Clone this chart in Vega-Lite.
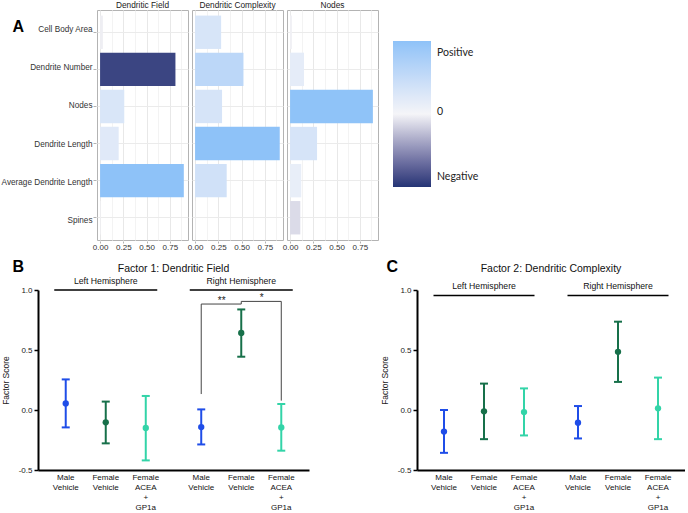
{
  "$schema": "https://vega.github.io/schema/vega-lite/v6.json",
  "padding": {"left": 1, "top": 0, "right": 0, "bottom": 0},
  "background": "white",
  "config": {
    "font": "Liberation Sans",
    "view": {"stroke": null},
    "axis": {"labelFont": "Liberation Sans", "titleFont": "Liberation Sans"},
    "title": {"font": "Liberation Sans"}
  },
  "datasets": {
    "loadings": [
      {"Factor": "Dendritic Field", "Variable": "Cell Body Area", "Loading": -0.03, "Magnitude": 0.03},
      {"Factor": "Dendritic Field", "Variable": "Dendrite Number", "Loading": -0.81, "Magnitude": 0.81},
      {"Factor": "Dendritic Field", "Variable": "Nodes", "Loading": 0.26, "Magnitude": 0.26},
      {"Factor": "Dendritic Field", "Variable": "Dendrite Length", "Loading": 0.2, "Magnitude": 0.2},
      {"Factor": "Dendritic Field", "Variable": "Average Dendrite Length", "Loading": 0.9, "Magnitude": 0.9},
      {"Factor": "Dendritic Field", "Variable": "Spines", "Loading": 0.005, "Magnitude": 0.005},
      {"Factor": "Dendritic Complexity", "Variable": "Cell Body Area", "Loading": 0.28, "Magnitude": 0.28},
      {"Factor": "Dendritic Complexity", "Variable": "Dendrite Number", "Loading": 0.52, "Magnitude": 0.52},
      {"Factor": "Dendritic Complexity", "Variable": "Nodes", "Loading": 0.29, "Magnitude": 0.29},
      {"Factor": "Dendritic Complexity", "Variable": "Dendrite Length", "Loading": 0.91, "Magnitude": 0.91},
      {"Factor": "Dendritic Complexity", "Variable": "Average Dendrite Length", "Loading": 0.34, "Magnitude": 0.34},
      {"Factor": "Dendritic Complexity", "Variable": "Spines", "Loading": 0.003, "Magnitude": 0.003},
      {"Factor": "Nodes", "Variable": "Cell Body Area", "Loading": -0.02, "Magnitude": 0.02},
      {"Factor": "Nodes", "Variable": "Dendrite Number", "Loading": 0.15, "Magnitude": 0.15},
      {"Factor": "Nodes", "Variable": "Nodes", "Loading": 0.89, "Magnitude": 0.89},
      {"Factor": "Nodes", "Variable": "Dendrite Length", "Loading": 0.29, "Magnitude": 0.29},
      {"Factor": "Nodes", "Variable": "Average Dendrite Length", "Loading": 0.12, "Magnitude": 0.12},
      {"Factor": "Nodes", "Variable": "Spines", "Loading": -0.11, "Magnitude": 0.11}
    ],
    "f1": [
      {"hem": "Left Hemisphere", "trt": "Male Vehicle", "mean": 0.055, "lo": -0.145, "hi": 0.255},
      {"hem": "Left Hemisphere", "trt": "Female Vehicle", "mean": -0.103, "lo": -0.278, "hi": 0.07},
      {"hem": "Left Hemisphere", "trt": "Female ACEA + GP1a", "mean": -0.15, "lo": -0.42, "hi": 0.117},
      {"hem": "Right Hemisphere", "trt": "Male Vehicle", "mean": -0.142, "lo": -0.287, "hi": 0.005},
      {"hem": "Right Hemisphere", "trt": "Female Vehicle", "mean": 0.642, "lo": 0.444, "hi": 0.838},
      {"hem": "Right Hemisphere", "trt": "Female ACEA + GP1a", "mean": -0.145, "lo": -0.339, "hi": 0.05}
    ],
    "f2": [
      {"hem": "Left Hemisphere", "trt": "Male Vehicle", "mean": -0.18, "lo": -0.357, "hi": 0.0},
      {"hem": "Left Hemisphere", "trt": "Female Vehicle", "mean": -0.011, "lo": -0.243, "hi": 0.22},
      {"hem": "Left Hemisphere", "trt": "Female ACEA + GP1a", "mean": -0.017, "lo": -0.212, "hi": 0.18},
      {"hem": "Right Hemisphere", "trt": "Male Vehicle", "mean": -0.106, "lo": -0.237, "hi": 0.033},
      {"hem": "Right Hemisphere", "trt": "Female Vehicle", "mean": 0.485, "lo": 0.234, "hi": 0.736},
      {"hem": "Right Hemisphere", "trt": "Female ACEA + GP1a", "mean": 0.014, "lo": -0.243, "hi": 0.27}
    ],
    "hemis1": [
      {"hem": "Left Hemisphere", "y": 1.0},
      {"hem": "Right Hemisphere", "y": 1.0}
    ],
    "hemis2": [
      {"hem": "Left Hemisphere", "y": 0.955},
      {"hem": "Right Hemisphere", "y": 0.955}
    ],
    "labels": [
      {"hem": "Left Hemisphere", "trt": "Male Vehicle", "label": "Male\nVehicle"},
      {"hem": "Left Hemisphere", "trt": "Female Vehicle", "label": "Female\nVehicle"},
      {"hem": "Left Hemisphere", "trt": "Female ACEA + GP1a", "label": "Female\nACEA\n+\nGP1a"},
      {"hem": "Right Hemisphere", "trt": "Male Vehicle", "label": "Male\nVehicle"},
      {"hem": "Right Hemisphere", "trt": "Female Vehicle", "label": "Female\nVehicle"},
      {"hem": "Right Hemisphere", "trt": "Female ACEA + GP1a", "label": "Female\nACEA\n+\nGP1a"}
    ],
    "bracket": [
      {"hem": "Right Hemisphere", "trt": "Male Vehicle", "y": 0.133, "o": 1},
      {"hem": "Right Hemisphere", "trt": "Male Vehicle", "y": 0.883, "o": 2},
      {"hem": "Right Hemisphere", "trt": "Female Vehicle", "y": 0.883, "o": 3},
      {"hem": "Right Hemisphere", "trt": "Female Vehicle", "y": 0.905, "o": 4},
      {"hem": "Right Hemisphere", "trt": "Female ACEA + GP1a", "y": 0.905, "o": 5},
      {"hem": "Right Hemisphere", "trt": "Female ACEA + GP1a", "y": 0.078, "o": 6}
    ],
    "stars": [
      {"hem": "Right Hemisphere", "trt": "Male Vehicle", "y": 0.883, "label": "**"},
      {"hem": "Right Hemisphere", "trt": "Female Vehicle", "y": 0.905, "label": "*"}
    ]
  },
  "resolve": {"scale": {"color": "independent", "fill": "independent"}, "legend": {"color": "independent", "fill": "independent"}},
  "spacing": 7,
  "vconcat": [
    {
      "spacing": 0,
      "resolve": {"scale": {"y": "independent"}, "axis": {"y": "independent"}},
      "hconcat": [
        {
          "data": {"name": "loadings"},
          "width": 1, "height": 230,
          "mark": {"type": "point", "opacity": 0},
          "encoding": {
            "y": {
              "field": "Variable", "type": "nominal",
              "sort": ["Cell Body Area", "Dendrite Number", "Nodes", "Dendrite Length", "Average Dendrite Length", "Spines"],
              "scale": {"paddingInner": 0.1, "paddingOuter": 0.15},
              "axis": {
                "orient": "right",
                "title": "A", "titleAngle": 0, "titleX": -27, "titleY": 8, "titleAlign": "left", "titleBaseline": "top",
                "titleFontSize": 16, "titleFontWeight": "bold", "titleColor": "black",
                "labelFontSize": 8.2, "labelColor": "#333", "labelAlign": "right", "labelPadding": 53,
                "ticks": false, "domain": false, "grid": false
              }
            }
          }
        },
        {
          "data": {"name": "loadings"},
          "spacing": 2,
          "facet": {
            "column": {
              "field": "Factor", "type": "nominal",
              "sort": ["Dendritic Field", "Dendritic Complexity", "Nodes"],
              "title": null,
              "header": {"labelFont": "Liberation Sans", "labelFontSize": 8.3, "labelColor": "#1a1a1a", "labelPadding": 0}
            }
          },
          "spec": {
            "width": 91, "height": 230,
            "view": {"stroke": "#b3b3b3", "strokeWidth": 1},
            "mark": {"type": "bar"},
            "encoding": {
              "y": {
                "field": "Variable", "type": "nominal",
                "sort": ["Cell Body Area", "Dendrite Number", "Nodes", "Dendrite Length", "Average Dendrite Length", "Spines"],
                "scale": {"paddingInner": 0.1, "paddingOuter": 0.15},
                "axis": {
                  "title": null, "labels": false,
                  "tickColor": "#b3b3b3", "tickSize": 3, "domain": false, "grid": true, "gridColor": "#ebebeb"
                }
              },
              "x": {
                "field": "Magnitude", "type": "quantitative",
                "scale": {"domain": [-0.033, 0.945], "nice": false, "zero": false},
                "axis": {
                  "title": null, "domain": false,
                  "values": [0, 0.125, 0.25, 0.375, 0.5, 0.625, 0.75, 0.875],
                  "labelExpr": "(datum.value*8) % 2 == 1 ? '' : format(datum.value, '.2f')",
                  "labelFontSize": 8, "labelColor": "#333", "labelFlush": false, "labelOverlap": false, "labelPadding": 0,
                  "tickSize": 2, "tickColor": "#b3b3b3",
                  "tickOpacity": {"condition": {"test": "(datum.value*8) % 2 == 1", "value": 0}, "value": 1},
                  "grid": true,
                  "gridColor": {"condition": {"test": "(datum.value*8) % 2 == 1", "value": "#f3f3f3"}, "value": "#e8e8e8"}
                }
              },
              "fill": {
                "field": "Loading", "type": "quantitative",
                "scale": {"domain": [-0.9, 0, 0.9], "range": ["#243475", "#f5f5f8", "#8ec2f8"], "clamp": true, "interpolate": "lab"},
                "legend": {
                  "orient": "none", "legendX": 355, "legendY": 31, "direction": "vertical", "title": null,
                  "gradientLength": 146, "gradientThickness": 38, "gradientStrokeWidth": 0,
                  "values": [-0.78, 0.025, 0.75],
                  "labelExpr": "datum.value > 0.1 ? 'Positive' : (datum.value < -0.1 ? 'Negative' : '0')",
                  "labelFont": "Lato", "labelFontSize": 10.5, "labelColor": "#222", "labelOffset": 6, "labelOverlap": false
                }
              }
            }
          }
        }
      ]
    },
    {
      "spacing": 71,
      "hconcat": [
        {
          "width": 271, "height": 180,
          "title": {"text": "Factor  1: Dendritic Field", "fontSize": 10.5, "fontWeight": "normal", "color": "#111", "offset": -16},
          "encoding": {
            "x": {
              "field": "hem", "type": "nominal", "sort": ["Left Hemisphere", "Right Hemisphere"],
              "scale": {"paddingInner": 0.114, "paddingOuter": 0.057},
              "axis": {
                "title": "B", "titleAngle": 0, "titleX": -26, "titleY": -212, "titleAlign": "left", "titleBaseline": "top",
                "titleFontSize": 16, "titleFontWeight": "bold", "titleColor": "black",
                "labels": false, "ticks": false, "domainColor": "black", "domainWidth": 2
              }
            }
          },
          "layer": [
            {
              "data": {"name": "f1"},
              "mark": {"type": "rule", "strokeWidth": 2},
              "encoding": {
                "xOffset": {"field": "trt", "type": "nominal", "sort": ["Male Vehicle", "Female Vehicle", "Female ACEA + GP1a"], "scale": {"paddingInner": 0, "paddingOuter": 0}},
                "y": {
                  "field": "lo", "type": "quantitative", "title": "Factor Score", "scale": {"domain": [-0.5, 1.0], "nice": false, "zero": false},
                  "axis": {
                    "title": "Factor Score", "values": [-0.5, 0, 0.5, 1],
                    "labelExpr": "datum.value == -0.5 ? '-0.5' : format(datum.value, '.1f')",
                    "grid": false, "domainColor": "black", "domainWidth": 2, "tickColor": "black", "tickWidth": 1.5, "tickSize": 4,
                    "labelFontSize": 8, "labelColor": "#222", "labelPadding": 2,
                    "titleFontSize": 8.5, "titleFontWeight": "normal", "titleColor": "#222", "titlePadding": 8
                  }
                },
                "y2": {"field": "hi"},
                "color": {"field": "trt", "type": "nominal", "scale": {"domain": ["Male Vehicle", "Female Vehicle", "Female ACEA + GP1a"], "range": ["#1f4de8", "#17704a", "#33d4a8"]}, "legend": null}
              }
            },
            {
              "data": {"name": "f1"},
              "mark": {"type": "tick", "size": 8, "thickness": 2, "opacity": 1},
              "encoding": {
                "xOffset": {"field": "trt", "type": "nominal", "sort": ["Male Vehicle", "Female Vehicle", "Female ACEA + GP1a"]},
                "y": {"field": "hi", "type": "quantitative", "title": "Factor Score"},
                "color": {"field": "trt", "type": "nominal", "legend": null}
              }
            },
            {
              "data": {"name": "f1"},
              "mark": {"type": "tick", "size": 8, "thickness": 2, "opacity": 1},
              "encoding": {
                "xOffset": {"field": "trt", "type": "nominal", "sort": ["Male Vehicle", "Female Vehicle", "Female ACEA + GP1a"]},
                "y": {"field": "lo", "type": "quantitative", "title": "Factor Score"},
                "color": {"field": "trt", "type": "nominal", "legend": null}
              }
            },
            {
              "data": {"name": "f1"},
              "mark": {"type": "point", "filled": true, "size": 40, "opacity": 1},
              "encoding": {
                "xOffset": {"field": "trt", "type": "nominal", "sort": ["Male Vehicle", "Female Vehicle", "Female ACEA + GP1a"]},
                "y": {"field": "mean", "type": "quantitative", "title": "Factor Score"},
                "color": {"field": "trt", "type": "nominal", "legend": null}
              }
            },
            {
              "data": {"name": "hemis1"},
              "mark": {"type": "tick", "size": 103, "thickness": 1.5, "color": "black", "opacity": 1},
              "encoding": {"y": {"field": "y", "type": "quantitative", "title": "Factor Score"}}
            },
            {
              "data": {"name": "hemis1"},
              "mark": {"type": "text", "fontSize": 8.7, "color": "#111", "dy": -9, "baseline": "middle"},
              "encoding": {"y": {"field": "y", "type": "quantitative", "title": "Factor Score"}, "text": {"field": "hem"}}
            },
            {
              "data": {"name": "labels"},
              "mark": {"type": "text", "fontSize": 8, "color": "#111", "dy": 4, "baseline": "top", "lineBreak": "\n", "lineHeight": 10},
              "encoding": {
                "xOffset": {"field": "trt", "type": "nominal", "sort": ["Male Vehicle", "Female Vehicle", "Female ACEA + GP1a"]},
                "y": {"datum": -0.5, "type": "quantitative", "title": "Factor Score"},
                "text": {"field": "label"}
              }
            },
            {
              "data": {"name": "bracket"},
              "mark": {"type": "line", "color": "#444", "strokeWidth": 1},
              "encoding": {
                "xOffset": {"field": "trt", "type": "nominal", "sort": ["Male Vehicle", "Female Vehicle", "Female ACEA + GP1a"]},
                "y": {"field": "y", "type": "quantitative", "title": "Factor Score"},
                "order": {"field": "o", "type": "quantitative"}
              }
            },
            {
              "data": {"name": "stars"},
              "mark": {"type": "text", "fontSize": 10, "color": "#222", "dx": 20.5, "dy": 0, "baseline": "alphabetic"},
              "encoding": {
                "xOffset": {"field": "trt", "type": "nominal", "sort": ["Male Vehicle", "Female Vehicle", "Female ACEA + GP1a"]},
                "y": {"field": "y", "type": "quantitative", "title": "Factor Score"},
                "text": {"field": "label"}
              }
            }
          ]
        },
        {
          "width": 268, "height": 180,
          "title": {"text": "Factor 2: Dendritic Complexity", "fontSize": 10.5, "fontWeight": "normal", "color": "#111", "offset": -16},
          "encoding": {
            "x": {
              "field": "hem", "type": "nominal", "sort": ["Left Hemisphere", "Right Hemisphere"],
              "scale": {"paddingInner": 0.104, "paddingOuter": 0.052},
              "axis": {
                "title": "C", "titleAngle": 0, "titleX": -31, "titleY": -212, "titleAlign": "left", "titleBaseline": "top",
                "titleFontSize": 16, "titleFontWeight": "bold", "titleColor": "black",
                "labels": false, "ticks": false, "domainColor": "black", "domainWidth": 2
              }
            }
          },
          "layer": [
            {
              "data": {"name": "f2"},
              "mark": {"type": "rule", "strokeWidth": 2},
              "encoding": {
                "xOffset": {"field": "trt", "type": "nominal", "sort": ["Male Vehicle", "Female Vehicle", "Female ACEA + GP1a"], "scale": {"paddingInner": 0, "paddingOuter": 0}},
                "y": {
                  "field": "lo", "type": "quantitative", "title": "Factor Score", "scale": {"domain": [-0.5, 1.0], "nice": false, "zero": false},
                  "axis": {
                    "title": "Factor Score", "values": [-0.5, 0, 0.5, 1],
                    "labelExpr": "datum.value == -0.5 ? '-0.5' : format(datum.value, '.1f')",
                    "grid": false, "domainColor": "black", "domainWidth": 2, "tickColor": "black", "tickWidth": 1.5, "tickSize": 4,
                    "labelFontSize": 8, "labelColor": "#222", "labelPadding": 2,
                    "titleFontSize": 8.5, "titleFontWeight": "normal", "titleColor": "#222", "titlePadding": 8
                  }
                },
                "y2": {"field": "hi"},
                "color": {"field": "trt", "type": "nominal", "scale": {"domain": ["Male Vehicle", "Female Vehicle", "Female ACEA + GP1a"], "range": ["#1f4de8", "#17704a", "#33d4a8"]}, "legend": null}
              }
            },
            {
              "data": {"name": "f2"},
              "mark": {"type": "tick", "size": 8, "thickness": 2, "opacity": 1},
              "encoding": {
                "xOffset": {"field": "trt", "type": "nominal", "sort": ["Male Vehicle", "Female Vehicle", "Female ACEA + GP1a"]},
                "y": {"field": "hi", "type": "quantitative", "title": "Factor Score"},
                "color": {"field": "trt", "type": "nominal", "legend": null}
              }
            },
            {
              "data": {"name": "f2"},
              "mark": {"type": "tick", "size": 8, "thickness": 2, "opacity": 1},
              "encoding": {
                "xOffset": {"field": "trt", "type": "nominal", "sort": ["Male Vehicle", "Female Vehicle", "Female ACEA + GP1a"]},
                "y": {"field": "lo", "type": "quantitative", "title": "Factor Score"},
                "color": {"field": "trt", "type": "nominal", "legend": null}
              }
            },
            {
              "data": {"name": "f2"},
              "mark": {"type": "point", "filled": true, "size": 40, "opacity": 1},
              "encoding": {
                "xOffset": {"field": "trt", "type": "nominal", "sort": ["Male Vehicle", "Female Vehicle", "Female ACEA + GP1a"]},
                "y": {"field": "mean", "type": "quantitative", "title": "Factor Score"},
                "color": {"field": "trt", "type": "nominal", "legend": null}
              }
            },
            {
              "data": {"name": "hemis2"},
              "mark": {"type": "tick", "size": 101, "thickness": 1.5, "color": "black", "opacity": 1},
              "encoding": {"y": {"field": "y", "type": "quantitative", "title": "Factor Score"}}
            },
            {
              "data": {"name": "hemis2"},
              "mark": {"type": "text", "fontSize": 8.7, "color": "#111", "dy": -9.3, "baseline": "middle"},
              "encoding": {"y": {"field": "y", "type": "quantitative", "title": "Factor Score"}, "text": {"field": "hem"}}
            },
            {
              "data": {"name": "labels"},
              "mark": {"type": "text", "fontSize": 8, "color": "#111", "dy": 4, "baseline": "top", "lineBreak": "\n", "lineHeight": 10},
              "encoding": {
                "xOffset": {"field": "trt", "type": "nominal", "sort": ["Male Vehicle", "Female Vehicle", "Female ACEA + GP1a"]},
                "y": {"datum": -0.5, "type": "quantitative", "title": "Factor Score"},
                "text": {"field": "label"}
              }
            }
          ]
        }
      ]
    }
  ]
}
